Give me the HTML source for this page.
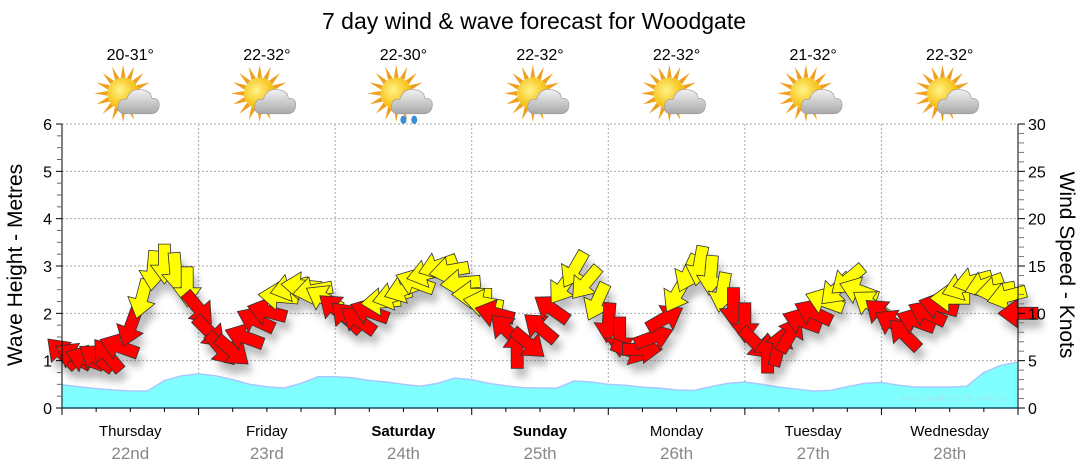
<!DOCTYPE html>
<html><head><meta charset="utf-8"><style>
body{margin:0;background:#fff;}
svg{display:block;font-family:"Liberation Sans",sans-serif;}
</style></head><body>
<svg id="chart" width="1080" height="475" viewBox="0 0 1080 475">
<defs>
<filter id="shd" x="-50%" y="-50%" width="200%" height="200%"><feGaussianBlur stdDeviation="4"/></filter>
<radialGradient id="sunG" cx="0.4" cy="0.4" r="0.6"><stop offset="0" stop-color="#fff38a"/><stop offset="1" stop-color="#f5b800"/></radialGradient>
<linearGradient id="cloudG" x1="0" y1="0" x2="0" y2="1"><stop offset="0" stop-color="#f2f2f2"/><stop offset="1" stop-color="#a8a8a8"/></linearGradient>
</defs>
<text x="534" y="29" font-size="23" text-anchor="middle" fill="#000">7 day wind &amp; wave forecast for Woodgate</text>
<g id="grid"></g>
<g id="wave"></g>
<g id="shadows" opacity="0.4"></g>
<g id="windline"></g>
<g id="arrows"></g>
<g id="axes"></g>
<g id="topicons"></g>
<text x="955" y="401" font-size="10.5" fill="#9be9ef" text-anchor="middle">www.seabreeze.com.au</text>
<text transform="translate(22,265) rotate(-90)" font-size="21" text-anchor="middle">Wave Height - Metres</text>
<text transform="translate(1060,265) rotate(90)" font-size="21" text-anchor="middle">Wind Speed - Knots</text>
</svg>
<script>
const days = ["Thursday","Friday","Saturday","Sunday","Monday","Tuesday","Wednesday"];
const dates = ["22nd","23rd","24th","25th","26th","27th","28th"];
const boldDays = [false,false,true,true,false,false,false];
const temps = ["20-31°","22-32°","22-30°","22-32°","22-32°","21-32°","22-32°"];
const rainy = [false,false,true,false,false,false,false];
const waveTicks = [0,1,2,3,4,5,6];
const windTicks = [0,5,10,15,20,25,30];
// wave height (m), 3-hourly
const waveHeight = [0.49,0.45,0.41,0.38,0.36,0.36,0.58,0.68,0.72,0.68,0.6,0.5,0.45,0.42,0.52,0.66,0.66,0.64,0.58,0.55,0.5,0.46,0.52,0.63,0.6,0.52,0.47,0.43,0.42,0.42,0.57,0.55,0.5,0.48,0.44,0.42,0.38,0.37,0.45,0.52,0.55,0.5,0.44,0.4,0.36,0.37,0.45,0.52,0.54,0.48,0.44,0.44,0.44,0.46,0.75,0.9,0.97];
// wind speed (knots), 2-hourly
const windSpeed = [5.8,5.5,5.2,5.3,5.6,6.5,8.5,11.5,14.5,15.2,14.3,12.8,10.5,8.0,6.2,6.0,7.5,9.3,10.2,11.8,12.7,12.9,12.4,11.6,10.5,9.6,9.3,10.2,11.2,11.8,12.5,13.3,14.2,15.0,14.5,13.2,12.0,11.1,10.0,8.3,6.3,6.8,8.5,10.5,12.8,14.6,13.2,11.2,9.0,7.5,6.0,6.2,7.5,9.5,12.0,14.2,15.0,14.0,12.2,10.6,9.0,6.8,5.8,6.5,7.8,9.2,10.1,11.3,12.5,13.5,12.4,11.0,10.0,9.0,7.8,9.2,10.0,10.8,11.6,12.8,13.4,13.0,12.4,11.8,10.0];
// arrow heading (screen degrees, 0=right, 90=down)
const windHeading = [225,210,200,215,230,200,110,105,95,90,85,90,50,45,50,40,200,205,195,185,165,185,170,210,220,225,215,200,175,165,160,200,165,160,170,175,180,190,195,225,270,40,220,215,125,120,130,115,95,90,20,0,340,330,120,115,100,95,100,90,90,45,270,285,300,200,205,200,135,140,200,215,220,210,225,200,205,195,180,160,165,160,170,165,180];

const X0=62, X1=1018, Y0=408, Y1=124;
const dayW=(X1-X0)/7;
const xWave=i=>X0+i*(X1-X0)/(waveHeight.length-1);
const xWind=i=>X0+i*(X1-X0)/(windSpeed.length-1);
const yM=m=>Y0-m*(Y0-Y1)/6;
const yK=k=>Y0-k*(Y0-Y1)/30;
const NS="http://www.w3.org/2000/svg";
function mk(tag,attrs,parent){const e=document.createElementNS(NS,tag);for(const k in attrs)e.setAttribute(k,attrs[k]);parent.appendChild(e);return e;}
const gridG=document.getElementById('grid'),axesG=document.getElementById('axes'),topG=document.getElementById('topicons');

waveTicks.forEach(m=>{if(m>0){const l=mk('line',{x1:X0,x2:X1,y1:yM(m),y2:yM(m),stroke:'#aaa','stroke-dasharray':'2,2'},gridG);

}});
for(let d=1;d<7;d++){const l=mk('line',{x1:X0+d*dayW,x2:X0+d*dayW,y1:Y1,y2:Y0,stroke:'#aaa','stroke-dasharray':'2,2'},gridG);

}

const wpts=waveHeight.map((v,i)=>xWave(i)+','+yM(v));
const wa=mk('polygon',{points:X0+','+Y0+' '+wpts.join(' ')+' '+X1+','+Y0,fill:'#80ffff'},document.getElementById('wave'));


const wl=mk('polyline',{points:wpts.join(' '),fill:'none',stroke:'#a8c8ff','stroke-width':1.5},document.getElementById('wave'));



const wline=mk('polyline',{points:windSpeed.map((v,i)=>xWind(i)+','+yK(v)).join(' '),fill:'none',stroke:'#888','stroke-width':1},document.getElementById('windline'));



const arrowPath="M-20,-6 L1,-6 L1,-14 L20,0 L1,14 L1,6 L-20,6 Z";
const shG=document.getElementById('shadows'),arG=document.getElementById('arrows');
windSpeed.forEach((v,i)=>{
  const x=xWind(i),y=yK(v),a=windHeading[i];
  const s=mk('path',{d:arrowPath,transform:`translate(${x+4},${y+9}) rotate(${a})`,fill:'#555',filter:'url(#shd)'},shG);
  
  
  const p=mk('path',{d:arrowPath,transform:`translate(${x},${y}) rotate(${a})`,fill:v>=11?'#ffff00':'#ff0000',stroke:'#333','stroke-width':0.8},arG);
  
  
});

mk('line',{x1:X0,x2:X0,y1:Y1,y2:Y0,stroke:'#000'},axesG);
mk('line',{x1:X1,x2:X1,y1:Y1,y2:Y0,stroke:'#000'},axesG);
mk('line',{x1:X0,x2:X1,y1:Y0,y2:Y0,stroke:'#1a4a6a','stroke-width':1.5},axesG);
waveTicks.forEach(m=>{mk('line',{x1:X0-6,x2:X0,y1:yM(m),y2:yM(m),stroke:'#000'},axesG);
 const t=mk('text',{x:X0-10,y:yM(m)+6,'font-size':16,'text-anchor':'end'},axesG);t.textContent=m;
 
 
 if(m<6)for(let k=1;k<4;k++)mk('line',{x1:X0-5,x2:X0,y1:yM(m+k/4),y2:yM(m+k/4),stroke:'#666'},axesG);});
windTicks.forEach(k=>{mk('line',{x1:X1,x2:X1+7,y1:yK(k),y2:yK(k),stroke:'#000'},axesG);
 const t=mk('text',{x:X1+10,y:yK(k)+6,'font-size':16},axesG);t.textContent=k;
 
 
 if(k<30)for(let j=1;j<5;j++)mk('line',{x1:X1,x2:X1+6,y1:yK(k+j),y2:yK(k+j),stroke:'#777'},axesG);});
for(let q=0;q<=28;q++){const x=X0+q*dayW/4;mk('line',{x1:x,x2:x,y1:Y0,y2:Y0+(q%4==0?7:4),stroke:'#000'},axesG);}

days.forEach((d,i)=>{
  const cx=X0+(i+0.5)*dayW;
  const t=mk('text',{x:cx,y:436,'font-size':15,'text-anchor':'middle','font-weight':boldDays[i]?'bold':'normal'},axesG);t.textContent=d;
  
  
  const t2=mk('text',{x:cx,y:459,'font-size':17,'text-anchor':'middle',fill:'#888'},axesG);t2.textContent=dates[i];
  
  
  const t3=mk('text',{x:cx,y:60,'font-size':16,'text-anchor':'middle'},topG);t3.textContent=temps[i];
  
  
  const g=mk('g',{transform:`translate(${cx},97) scale(1.2)`},topG);
  
  
  for(let r=0;r<16;r++){const a=r*22.5;mk('path',{d:'M-2,-13 L0,-24 L2,-13 Z',fill:'#f0a020',transform:`translate(-6,-3) rotate(${a})`},g);}
  mk('circle',{cx:-6,cy:-3,r:13,fill:'url(#sunG)'},g);
  mk('path',{d:'M-4,14 Q-11,14 -10,7 Q-9,1 -3,2 Q0,-8 10,-6 Q17,-5 18,1 Q25,1 24,8 Q23,14 17,14 Z',fill:'url(#cloudG)',stroke:'#999','stroke-width':0.5},g);
  if(rainy[i]){mk('ellipse',{cx:0,cy:19,rx:2.5,ry:3.5,fill:'#3a8fd8'},g);mk('ellipse',{cx:9,cy:19,rx:2.5,ry:3.5,fill:'#3a8fd8'},g);}
});
</script>
</body></html>
